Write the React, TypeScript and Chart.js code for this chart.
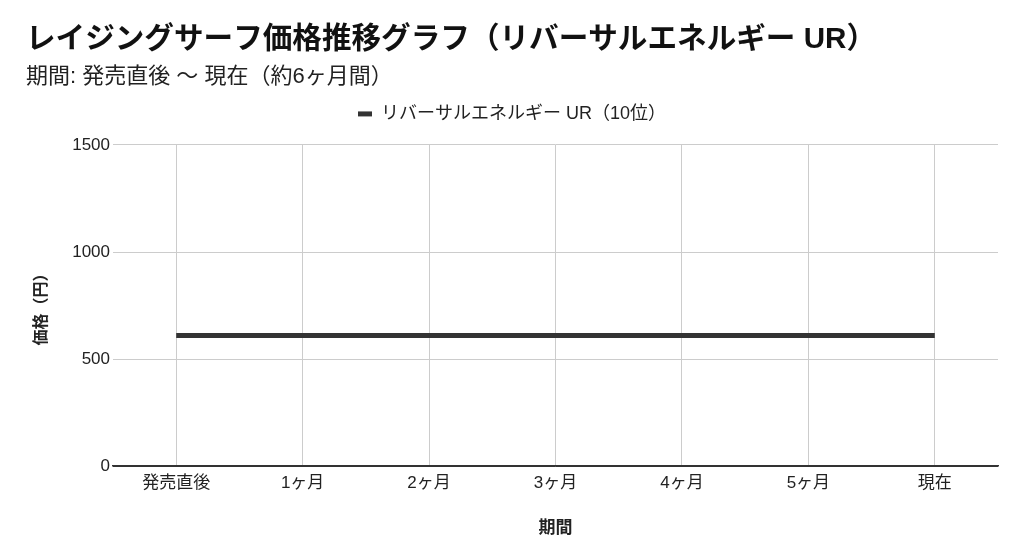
import React, { useEffect, useRef } from "react";
import { Chart, registerables } from "chart.js";

Chart.register(...registerables);

const titleText = "レイジングサーフ価格推移グラフ（リバーサルエネルギー UR）";
const subtitleText = "期間: 発売直後 〜 現在（約6ヶ月間）";
const seriesLabel = "リバーサルエネルギー UR（10位）";
const categories = ["発売直後", "1ヶ月", "2ヶ月", "3ヶ月", "4ヶ月", "5ヶ月", "現在"];
const prices = [610, 610, 610, 610, 610, 610, 610];
const yTicks = [0, 500, 1000, 1500];
const xAxisTitle = "期間";
const yAxisTitle = "価格（円）";

const FONT = "'Liberation Sans', 'Noto Sans CJK JP', sans-serif";

const legendGap = {
  id: "legendGap",
  beforeLayout(chart: any) {
    const l = chart.legend;
    if (l && !l._gapPatched) {
      const f = l.fit.bind(l);
      l.fit = function () {
        f();
        this.height += 12;
      };
      l._gapPatched = true;
    }
  },
};

export default function App() {
  const ref = useRef<HTMLCanvasElement | null>(null);

  useEffect(() => {
    if (!ref.current) return;
    const chart = new Chart(ref.current, {
      type: "line",
      data: {
        labels: categories,
        datasets: [
          {
            label: seriesLabel,
            data: prices,
            borderColor: "#333333",
            backgroundColor: "#333333",
            borderWidth: 5,
            pointRadius: 0,
            tension: 0,
          },
        ],
      },
      options: {
        animation: false,
        responsive: true,
        maintainAspectRatio: false,
        layout: { padding: { left: 26, right: 26, top: 0, bottom: 19 } },
        plugins: {
          title: {
            display: true,
            text: titleText,
            align: "start",
            color: "#111",
            font: { family: FONT, size: 29.6, weight: "bold" },
            padding: { top: 22, bottom: 6 },
          },
          subtitle: {
            display: true,
            text: subtitleText,
            align: "start",
            color: "#222",
            font: { family: FONT, size: 22 },
            padding: { top: 0, bottom: 5 },
          },
          legend: {
            display: true,
            position: "top",
            labels: {
              color: "#222",
              font: { family: FONT, size: 18 },
              boxWidth: 14,
              boxHeight: 5,
              padding: 10,
              generateLabels: (c: any) =>
                Chart.defaults.plugins.legend.labels
                  .generateLabels(c)
                  .map((it: any) => ({ ...it, lineWidth: 0 })),
            },
          },
          tooltip: { enabled: false },
        },
        scales: {
          x: {
            offset: true,
            grid: { offset: false, color: "#cccccc", drawTicks: false },
            border: { display: true, color: "#333333", width: 1.5 },
            ticks: { color: "#222", font: { family: FONT, size: 17 }, padding: 7 },
            title: {
              display: true,
              text: xAxisTitle,
              color: "#222",
              font: { family: FONT, size: 17, weight: "bold" },
              padding: { top: 18, bottom: 0 },
            },
          },
          y: {
            min: 0,
            max: 1500,
            afterBuildTicks: (axis: any) => {
              axis.ticks = yTicks.map((v) => ({ value: v }));
            },
            afterFit: (axis: any) => {
              axis.width = 87;
            },
            grid: {
              color: (ctx: any) => (ctx.tick && ctx.tick.value === 0 ? "#333333" : "#cccccc"),
              drawTicks: false,
            },
            border: { display: false },
            ticks: {
              color: "#222",
              font: { family: FONT, size: 17 },
              padding: 3,
              callback: (v: any) => String(v),
            },
            title: {
              display: true,
              text: yAxisTitle,
              color: "#222",
              font: { family: FONT, size: 16, weight: "bold" },
              padding: { top: 6, bottom: 0 },
            },
          },
        },
      },
      plugins: [legendGap],
    });
    return () => chart.destroy();
  }, []);

  return (
    <div style={{ position: "fixed", left: 0, top: 0, width: 1024, height: 558, background: "#ffffff" }}>
      <canvas ref={ref} />
    </div>
  );
}
